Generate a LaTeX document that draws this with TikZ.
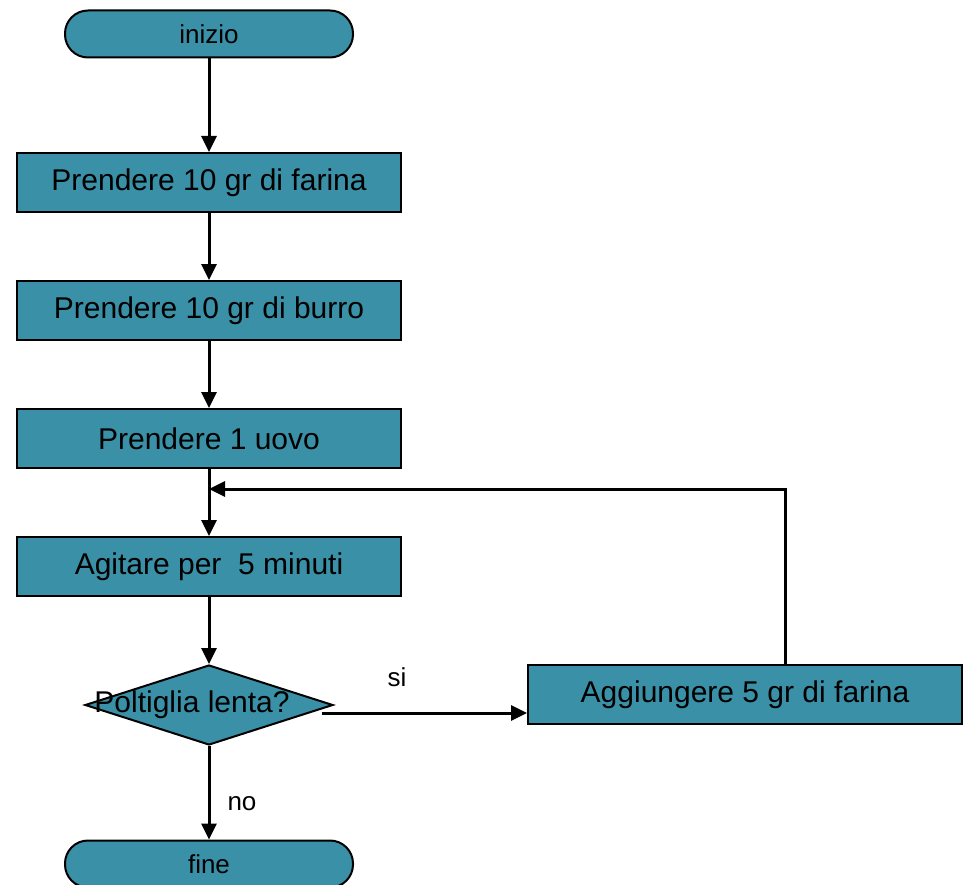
\documentclass[tikz,border=0pt]{standalone}
\usepackage{fontspec}
\setmainfont{Liberation Sans}
\usetikzlibrary{shapes.geometric, arrows.meta, positioning}
\definecolor{petrol}{RGB}{58,144,166}

\begin{document}
\begin{tikzpicture}[x=1pt, y=-1pt, >={Triangle[length=16pt,width=15pt]}, line width=3pt,
    stepbox/.style={draw, line width=2pt, fill=petrol, minimum width=384pt, minimum height=59pt, inner sep=0pt, font=\fontsize{30}{36}\selectfont},
    endbox/.style={draw, line width=2pt, fill=petrol, rounded corners=23pt, minimum width=288pt, minimum height=47pt, inner sep=0pt, font=\fontsize{26}{30}\selectfont},
    lbl/.style={font=\fontsize{26}{30}\selectfont}]
    \useasboundingbox (0,0) rectangle (963,885);

    % inizio e passi
    \node[endbox] (start) at (209,34) {inizio};
    \node[stepbox] (flour) at (209,182.5) {Prendere 10 gr di farina};
    \node[stepbox] (butter) at (209,310.5) {Prendere 10 gr di burro};
    \node[stepbox] (egg) at (209,438.5) {Prendere 1 uovo};
    \node[stepbox] (shake) at (209,566.5) {Agitare per\ \ 5 minuti};

    % decisione
    \node[diamond, draw, line width=2pt, fill=petrol, minimum width=248pt, minimum height=80pt, inner sep=0pt] (check) at (209,705) {};
    \node[font=\fontsize{30}{36}\selectfont] (checktext) at (192,705) {Poltiglia lenta?};
    \node[stepbox, minimum width=434pt] (more) at (745,694.5) {Aggiungere 5 gr di farina};
    \node[endbox] (stop) at (209,864) {fine};

    \draw[->] (start) -- (flour);
    \draw[->] (flour) -- (butter);
    \draw[->] (butter) -- (egg);
    \draw[->] (egg) -- (shake);
    \draw[->] (shake) -- (check);

    % ramo si
    \coordinate (yesout) at (322,713);
    \draw[->] (yesout) -- (yesout -| more.west);
    \node[lbl] (yes) at (397,677) {si};

    % ritorno
    \coordinate (back) at (785,489);
    \draw[->] (back |- more.north) -- (back) -- (back -| egg.south);

    % ramo no
    \draw[->] (check) -- (stop);
    \node[lbl] (no) at (242,804) {no};
\end{tikzpicture}
\end{document}
